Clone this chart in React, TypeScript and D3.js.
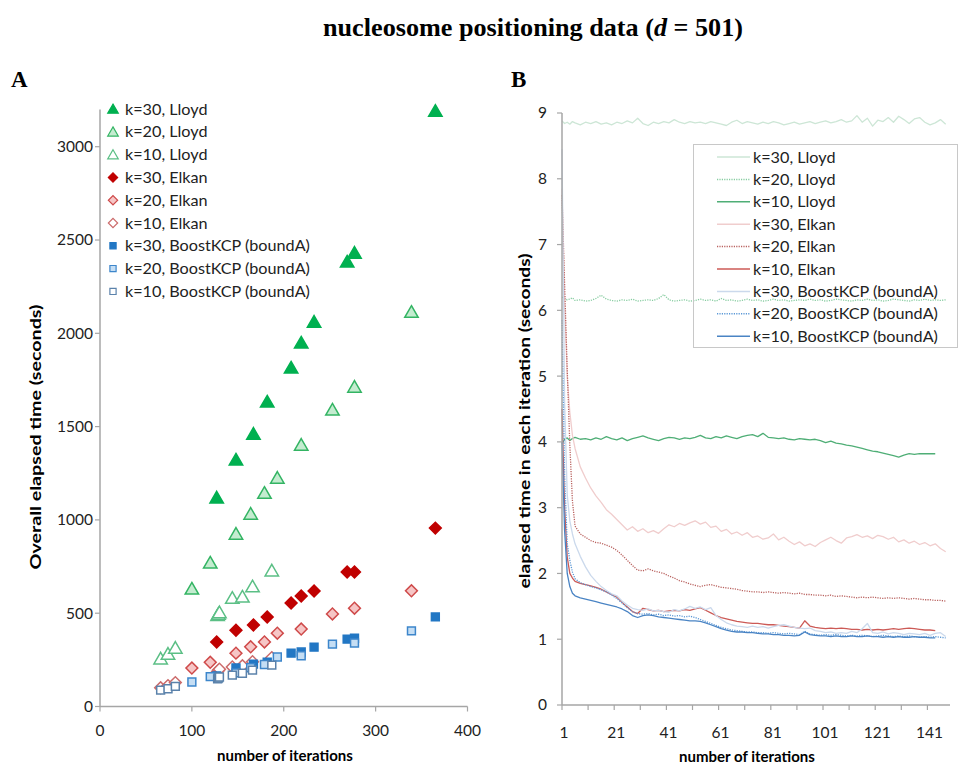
import React from "react";
import * as d3 from "d3";

// ---------- Panel A: overall elapsed time vs number of iterations ----------
const seriesLabels = [
  "k=30, Lloyd",
  "k=20, Lloyd",
  "k=10, Lloyd",
  "k=30, Elkan",
  "k=20, Elkan",
  "k=10, Elkan",
  "k=30, BoostKCP (boundA)",
  "k=20, BoostKCP (boundA)",
  "k=10, BoostKCP (boundA)",
];

const itersK30 = [127, 148, 167, 182, 208, 219, 233, 269, 277, 365];
const itersK20 = [100, 120, 148, 164, 179, 193, 219, 253, 277, 339];
const itersK10 = [66, 74, 82, 128, 129, 130, 144, 155, 166, 187];

const lloydK30Total = [1118, 1321, 1460, 1632, 1814, 1948, 2060, 2382, 2430, 3190];
const lloydK20Total = [630, 769, 924, 1031, 1143, 1224, 1401, 1589, 1712, 2113];
const lloydK10Total = [255, 281, 313, 488, 495, 503, 580, 587, 642, 727];
const elkanK30Total = [346, 409, 437, 480, 555, 592, 619, 721, 721, 956];
const elkanK20Total = [206, 237, 286, 320, 346, 393, 415, 496, 527, 620];
const elkanK10Total = [100, 112, 128, 188, 195, 200, 212, 218, 240, 262];
const boostK30Total = [164, 207, 227, 237, 286, 292, 318, 361, 366, 480];
const boostK20Total = [131, 160, 180, 208, 225, 265, 272, 334, 340, 405];
const boostK10Total = [88, 95, 108, 148, 152, 158, 168, 178, 195, 222];

const xTicksA = [0, 100, 200, 300, 400];
const yTicksA = [0, 500, 1000, 1500, 2000, 2500, 3000];

// ---------- Panel B: elapsed time in each iteration ----------
const iterationSamples = [
  1, 2, 3, 4, 5, 6, 8, 10, 12, 14,
  16, 18, 20, 22, 24, 26, 28, 30, 32, 34,
  36, 38, 40, 42, 44, 46, 48, 50, 52, 54,
  56, 58, 60, 62, 64, 66, 68, 70, 72, 74,
  76, 78, 80, 82, 84, 86, 88, 90, 92, 94,
  96, 98, 100, 102, 104, 106, 108, 110, 112, 114,
  116, 118, 120, 122, 124, 126, 128, 130, 132, 134,
  136, 138, 140, 142, 144, 146, 148,
];

const lloydK30Step = [
  8.88, 8.84, 8.86, 8.83, 8.87, 8.85, 8.82, 8.86, 8.84, 8.87,
  8.83, 8.85, 8.82, 8.86, 8.84, 8.88, 8.85, 8.92, 8.84, 8.81,
  8.86, 8.84, 8.87, 8.85, 8.9, 8.86, 8.84, 8.87, 8.85, 8.86,
  8.84, 8.87, 8.85, 8.83, 8.81, 8.86, 8.89, 8.84, 8.87, 8.85,
  8.83, 8.86, 8.84, 8.87, 8.85, 8.82, 8.84, 8.86, 8.83, 8.85,
  8.87, 8.84, 8.86, 8.88, 8.85, 8.87, 8.9, 8.86, 8.88, 8.96,
  8.86, 8.92, 8.8, 8.89, 8.87, 8.93, 8.86, 8.95, 8.9, 8.84,
  8.91, 8.93, 8.86, 8.82, 8.85, 8.9, 8.83,
];
const lloydK20Step = [
  6.2, 6.18, 6.16, 6.17, 6.19, 6.15, 6.16, 6.14, 6.15, 6.18,
  6.23, 6.17, 6.15, 6.14, 6.16, 6.15, 6.17, 6.14, 6.15, 6.16,
  6.15, 6.18, 6.24, 6.16, 6.14, 6.15, 6.16, 6.14, 6.15, 6.17,
  6.15, 6.16, 6.14, 6.18, 6.15, 6.16, 6.14, 6.15, 6.17, 6.15,
  6.16, 6.14, 6.15, 6.17, 6.15, 6.16, 6.14, 6.15, 6.16, 6.15,
  6.17, 6.15, 6.16, 6.14, 6.15, 6.17, 6.16, 6.15, 6.14, 6.16,
  6.15, 6.17, 6.15, 6.16, 6.14, 6.15, 6.17, 6.16, 6.15, 6.14,
  6.16, 6.15, 6.17, 6.15, 6.16, 6.15, 6.16,
];
const lloydK10Step = [
  3.97, 4.04, 4.06, 4.02, 4.05, 4.07, 4.04, 4.05, 4.03, 4.06,
  4.04, 4.08, 4.05, 4.03, 4.06, 4.02, 4.05, 4.07, 4.09, 4.06,
  4.04, 4.02, 4.05, 4.07, 4.06, 4.04, 4.06, 4.05, 4.07, 4.1,
  4.06, 4.05, 4.08, 4.06, 4.09, 4.07, 4.05, 4.08, 4.1, 4.11,
  4.08, 4.13, 4.07, 4.06, 4.05, 4.06, 4.04, 4.03, 4.05, 4.04,
  4.03, 4.04, 4.02, 3.99, 4.01, 3.98, 3.97, 3.95, 3.94, 3.92,
  3.9, 3.88, 3.86, 3.85, 3.83, 3.81, 3.79, 3.77, 3.8, 3.82,
  3.81, 3.82, 3.82, 3.82, 3.82,
];
const elkanK30Step = [
  7.85, 6.1, 5.0, 4.45, 4.1, 3.9, 3.62, 3.45, 3.3, 3.18,
  3.08, 2.97, 2.9, 2.82, 2.74, 2.66, 2.71, 2.64, 2.68, 2.62,
  2.65, 2.61, 2.68, 2.74, 2.71, 2.76, 2.73, 2.77, 2.8, 2.75,
  2.78, 2.7, 2.72, 2.64, 2.67, 2.6, 2.63, 2.58, 2.62, 2.55,
  2.57, 2.52, 2.54, 2.6, 2.51, 2.55, 2.49, 2.44, 2.48, 2.42,
  2.45, 2.41, 2.47, 2.51, 2.55, 2.5, 2.46, 2.54, 2.56, 2.59,
  2.55, 2.57, 2.53, 2.58, 2.56, 2.52, 2.55, 2.48, 2.51, 2.46,
  2.49, 2.44, 2.47, 2.42, 2.45, 2.38, 2.33,
];
const elkanK20Step = [
  7.75, 6.4, 5.1, 3.95, 3.1, 2.72, 2.6, 2.55, 2.5, 2.47,
  2.46, 2.43, 2.4, 2.35, 2.28, 2.2, 2.12, 2.05, 2.04, 2.07,
  2.04, 2.02, 2.0, 1.96, 1.93, 1.89, 1.87, 1.84, 1.82, 1.8,
  1.82, 1.83, 1.81, 1.79, 1.78, 1.77, 1.76, 1.74, 1.73, 1.72,
  1.72, 1.71, 1.72, 1.71, 1.7, 1.71, 1.7, 1.69, 1.7, 1.68,
  1.68, 1.67, 1.67, 1.66, 1.67, 1.65, 1.66, 1.65, 1.64, 1.63,
  1.64, 1.63, 1.64, 1.63, 1.62, 1.63, 1.62, 1.63, 1.62, 1.61,
  1.62, 1.61, 1.6, 1.6, 1.59, 1.59, 1.58,
];
const elkanK10Step = [
  4.5, 3.0, 2.25, 2.0, 1.93, 1.88, 1.85, 1.83, 1.81, 1.79,
  1.76, 1.72, 1.68, 1.64, 1.56, 1.49, 1.42, 1.39, 1.47, 1.45,
  1.43, 1.44, 1.42, 1.43, 1.44, 1.43, 1.45, 1.44, 1.46, 1.48,
  1.44, 1.4, 1.36, 1.33, 1.31, 1.29, 1.27, 1.26, 1.25, 1.24,
  1.24, 1.23, 1.22, 1.22, 1.21, 1.2, 1.19, 1.18, 1.17, 1.28,
  1.2, 1.18, 1.17, 1.16, 1.17, 1.16, 1.17, 1.16, 1.15, 1.15,
  1.14, 1.15, 1.14, 1.15, 1.14, 1.15, 1.16, 1.15, 1.16, 1.17,
  1.16, 1.15, 1.14, 1.14, 1.13,
];
const boostK30Step = [
  8.45, 4.6, 3.2, 2.8, 2.6, 2.45, 2.26, 2.1, 1.97, 1.88,
  1.8, 1.74, 1.69, 1.66, 1.58, 1.52, 1.47, 1.45, 1.44, 1.46,
  1.43, 1.44, 1.42, 1.41, 1.45, 1.43, 1.46, 1.5, 1.47, 1.49,
  1.45, 1.48, 1.36, 1.3, 1.25, 1.22, 1.2, 1.19, 1.18, 1.2,
  1.18, 1.19, 1.17, 1.19, 1.21, 1.22, 1.2, 1.18, 1.17, 1.16,
  1.17, 1.13, 1.12, 1.1, 1.11, 1.09, 1.1, 1.09, 1.12, 1.1,
  1.16, 1.24, 1.1, 1.09, 1.11, 1.08, 1.1, 1.09, 1.07, 1.09,
  1.08, 1.07, 1.09, 1.06, 1.09, 1.1, 1.04,
];
const boostK20Step = [
  5.85, 3.5, 2.45, 2.2, 2.02, 1.92, 1.86, 1.83, 1.8, 1.78,
  1.75, 1.72, 1.67, 1.62, 1.55, 1.48, 1.42, 1.39, 1.38, 1.39,
  1.37, 1.38, 1.36, 1.37, 1.35, 1.36, 1.34, 1.35, 1.33, 1.3,
  1.27, 1.24, 1.21, 1.18, 1.16, 1.14, 1.13, 1.12, 1.11, 1.11,
  1.1, 1.1, 1.09, 1.1, 1.09, 1.08, 1.09, 1.08, 1.07, 1.12,
  1.08, 1.07, 1.06, 1.07, 1.06, 1.07, 1.06, 1.05, 1.06, 1.05,
  1.06, 1.05, 1.04, 1.05, 1.06, 1.05, 1.04, 1.05, 1.04, 1.05,
  1.04, 1.03, 1.04, 1.03, 1.04, 1.03, 1.02,
];
const boostK10Step = [
  4.0, 2.65, 2.0, 1.8, 1.7, 1.66, 1.63, 1.61, 1.59, 1.57,
  1.55, 1.53, 1.51, 1.49, 1.46, 1.42, 1.36, 1.33, 1.36, 1.37,
  1.36, 1.34, 1.33, 1.32, 1.31, 1.3, 1.29, 1.28, 1.28, 1.27,
  1.25, 1.22, 1.19, 1.16, 1.14, 1.12, 1.11, 1.11, 1.1, 1.1,
  1.09, 1.08, 1.08, 1.07, 1.07, 1.06, 1.06, 1.05, 1.06, 1.11,
  1.07, 1.06, 1.05, 1.05, 1.04, 1.05, 1.04, 1.04, 1.05, 1.04,
  1.04, 1.05, 1.04, 1.04, 1.03, 1.04, 1.03, 1.04, 1.03, 1.03,
  1.04, 1.03, 1.03, 1.02, 1.02,
];

const xTickLabelsB = [1, 21, 41, 61, 81, 101, 121, 141];
const xTickMarksB = [1, 11, 21, 31, 41, 51, 61, 71, 81, 91, 101, 111, 121, 131, 141];
const yTicksB = [0, 1, 2, 3, 4, 5, 6, 7, 8, 9];

// ---------- styles ----------
type Shape = "tri" | "dia" | "sq";
const markerStyles: { shape: Shape; fill: string; stroke: string }[] = [
  { shape: "tri", fill: "#00b050", stroke: "#00b050" },
  { shape: "tri", fill: "#c4ecd0", stroke: "#33b463" },
  { shape: "tri", fill: "#ffffff", stroke: "#5bbf85" },
  { shape: "dia", fill: "#c00000", stroke: "#c00000" },
  { shape: "dia", fill: "#f6c6c6", stroke: "#cf4a4a" },
  { shape: "dia", fill: "#ffffff", stroke: "#cc6b6b" },
  { shape: "sq", fill: "#2277c4", stroke: "#2277c4" },
  { shape: "sq", fill: "#c5def4", stroke: "#3d86cb" },
  { shape: "sq", fill: "#ffffff", stroke: "#5b82ab" },
];
const lineStyles = [
  { color: "#cde6d6", dash: "" },
  { color: "#86cca0", dash: "1.2 1.2" },
  { color: "#4fae76", dash: "" },
  { color: "#f0cdcd", dash: "" },
  { color: "#b9625f", dash: "1.2 1.2" },
  { color: "#cc5a56", dash: "" },
  { color: "#cbd9ec", dash: "" },
  { color: "#5b98d6", dash: "1.2 1.2" },
  { color: "#4a84c4", dash: "" },
];

const SANS = "Lato, 'Open Sans', sans-serif";
const SERIF = "'Liberation Serif', 'DejaVu Serif', serif";
const AXIS = "#a6a6a6";

function markerPath(shape: Shape, big: boolean): string {
  const s = big ? 1 : 0.62;
  if (shape === "tri") return d3.symbol().type(d3.symbolTriangle).size(78 * s)() as string;
  if (shape === "dia") return d3.symbol().type(d3.symbolSquare).size(70 * s)() as string;
  return d3.symbol().type(d3.symbolSquare).size(62 * s)() as string;
}

export default function App() {
  // panel A scales
  const xA = d3.scaleLinear().domain([0, 400]).range([100, 467.5]);
  const yA = d3.scaleLinear().domain([0, 3200]).range([706.5, 109.4]);
  // panel B scales
  const xB = d3.scaleLinear().domain([1, 149]).range([562, 948.3]);
  const yB = d3.scaleLinear().domain([0, 9]).range([705, 113]);

  const scatterSeries = [
    { iters: itersK30, totals: lloydK30Total },
    { iters: itersK20, totals: lloydK20Total },
    { iters: itersK10, totals: lloydK10Total },
    { iters: itersK30, totals: elkanK30Total },
    { iters: itersK20, totals: elkanK20Total },
    { iters: itersK10, totals: elkanK10Total },
    { iters: itersK30, totals: boostK30Total },
    { iters: itersK20, totals: boostK20Total },
    { iters: itersK10, totals: boostK10Total },
  ];
  const stepSeries = [
    lloydK30Step, lloydK20Step, lloydK10Step,
    elkanK30Step, elkanK20Step, elkanK10Step,
    boostK30Step, boostK20Step, boostK10Step,
  ];

  const line = d3
    .line<number>()
    .x((_, i) => xB(iterationSamples[i]))
    .y((v) => yB(v));

  const markerTransform = (shape: Shape, x: number, y: number) =>
    shape === "dia"
      ? `translate(${x},${y}) rotate(45)`
      : shape === "tri"
      ? `translate(${x},${y + 1.2})`
      : `translate(${x},${y})`;

  return (
    <svg
      width={960}
      height={767}
      viewBox="0 0 960 767"
      style={{ position: "absolute", left: 0, top: 0, background: "#fff" }}
    >
      <rect x={0} y={0} width={960} height={767} fill="#fff" />
      {/* title */}
      <text
        x={533}
        y={36}
        textAnchor="middle"
        fontFamily={SERIF}
        fontWeight="bold"
        fontSize={25}
        textLength={420}
        lengthAdjust="spacingAndGlyphs"
      >
        nucleosome positioning data (<tspan fontStyle="italic">d</tspan> = 501)
      </text>
      <text x={11} y={87} fontFamily={SERIF} fontWeight="bold" fontSize={23}>A</text>
      <text x={511} y={87} fontFamily={SERIF} fontWeight="bold" fontSize={23}>B</text>

      {/* ---------- Panel A ---------- */}
      <g>
        <line x1={xA(0)} x2={xA(0)} y1={yA(0)} y2={yA(3200)} stroke={AXIS} strokeWidth={1.5} />
        <line x1={xA(0)} x2={xA(400)} y1={yA(0)} y2={yA(0)} stroke={AXIS} strokeWidth={1.5} />
        {yTicksA.map((t) => (
          <g key={"ya" + t}>
            <line x1={xA(0) - 5} x2={xA(0)} y1={yA(t)} y2={yA(t)} stroke={AXIS} strokeWidth={1.2} />
            <text x={xA(0) - 7} y={yA(t)} dy="0.35em" textAnchor="end" fontFamily={SANS} fontSize={15.5} fill="#222">
              {t}
            </text>
          </g>
        ))}
        {xTicksA.map((t) => (
          <g key={"xa" + t}>
            <line x1={xA(t)} x2={xA(t)} y1={yA(0)} y2={yA(0) + 5} stroke={AXIS} strokeWidth={1.2} />
            <text x={xA(t)} y={731} dy="0.35em" textAnchor="middle" fontFamily={SANS} fontSize={15.5} fill="#222">
              {t}
            </text>
          </g>
        ))}
        <text x={285} y={756} dy="0.35em" textAnchor="middle" fontFamily={SANS} fontWeight="bold" fontSize={15}>
          number of iterations
        </text>
        <text
          transform={`translate(36,437) rotate(-90)`}
          dy="0.35em"
          textAnchor="middle"
          fontFamily={SANS}
          fontWeight="bold"
          fontSize={15.5}
          textLength={265}
          lengthAdjust="spacingAndGlyphs"
        >
          Overall elapsed time (seconds)
        </text>

        {scatterSeries.map((s, si) => {
          const st = markerStyles[si];
          const p = markerPath(st.shape, true);
          return (
            <g key={"sa" + si}>
              {s.iters.map((it, j) => (
                <path
                  key={j}
                  d={p}
                  transform={markerTransform(st.shape, xA(it), yA(s.totals[j]))}
                  fill={st.fill}
                  stroke={st.stroke}
                  strokeWidth={1.5}
                />
              ))}
            </g>
          );
        })}

        {/* legend */}
        {seriesLabels.map((lab, i) => {
          const st = markerStyles[i];
          const y = 109 + i * 22.8;
          return (
            <g key={"la" + i}>
              <path
                d={markerPath(st.shape, false)}
                transform={markerTransform(st.shape, 113, y)}
                fill={st.fill}
                stroke={st.stroke}
                strokeWidth={1.2}
              />
              <text x={125} y={y} dy="0.35em" fontFamily={SANS} fontSize={16.2} fill="#222">
                {lab}
              </text>
            </g>
          );
        })}
      </g>

      {/* ---------- Panel B ---------- */}
      <g>
        {stepSeries.map((vals, si) => (
          <path
            key={"lb" + si}
            d={line(vals) as string}
            fill="none"
            stroke={lineStyles[si].color}
            strokeWidth={1.3}
            strokeDasharray={lineStyles[si].dash || undefined}
            strokeLinejoin="round"
          />
        ))}
        <line x1={xB(1)} x2={xB(1)} y1={yB(0)} y2={yB(9)} stroke={AXIS} strokeWidth={1.5} />
        <line x1={xB(1)} x2={950} y1={yB(0)} y2={yB(0)} stroke={AXIS} strokeWidth={1.5} />
        {yTicksB.map((t) => (
          <g key={"yb" + t}>
            <line x1={xB(1) - 5} x2={xB(1)} y1={yB(t)} y2={yB(t)} stroke={AXIS} strokeWidth={1.2} />
            <text x={xB(1) - 15} y={yB(t)} dy="0.35em" textAnchor="end" fontFamily={SANS} fontSize={15.5} fill="#222">
              {t}
            </text>
          </g>
        ))}
        {xTickMarksB.map((t) => (
          <line key={"xbt" + t} x1={xB(t)} x2={xB(t)} y1={yB(0)} y2={yB(0) + 5} stroke={AXIS} strokeWidth={1.2} />
        ))}
        {xTickLabelsB.map((t) => (
          <text key={"xbl" + t} x={xB(t) + 2} y={733} dy="0.35em" textAnchor="middle" fontFamily={SANS} fontSize={15.5} fill="#222">
            {t}
          </text>
        ))}
        <text x={747} y={757} dy="0.35em" textAnchor="middle" fontFamily={SANS} fontWeight="bold" fontSize={15}>
          number of iterations
        </text>
        <text
          transform={`translate(525,421) rotate(-90)`}
          dy="0.35em"
          textAnchor="middle"
          fontFamily={SANS}
          fontWeight="bold"
          fontSize={15.5}
          textLength={335}
          lengthAdjust="spacingAndGlyphs"
        >
          elapsed time in each iteration (seconds)
        </text>

        {/* legend */}
        <rect x={693.5} y={144.5} width={264} height={203} fill="none" stroke="#c8c8c8" strokeWidth={1} />
        {seriesLabels.map((lab, i) => {
          const y = 157 + i * 22.4;
          return (
            <g key={"lgb" + i}>
              <line
                x1={717}
                x2={750}
                y1={y}
                y2={y}
                stroke={lineStyles[i].color}
                strokeWidth={1.5}
                strokeDasharray={lineStyles[i].dash || undefined}
              />
              <text x={753} y={y} dy="0.35em" fontFamily={SANS} fontSize={16.2} fill="#222">
                {lab}
              </text>
            </g>
          );
        })}
      </g>
    </svg>
  );
}
